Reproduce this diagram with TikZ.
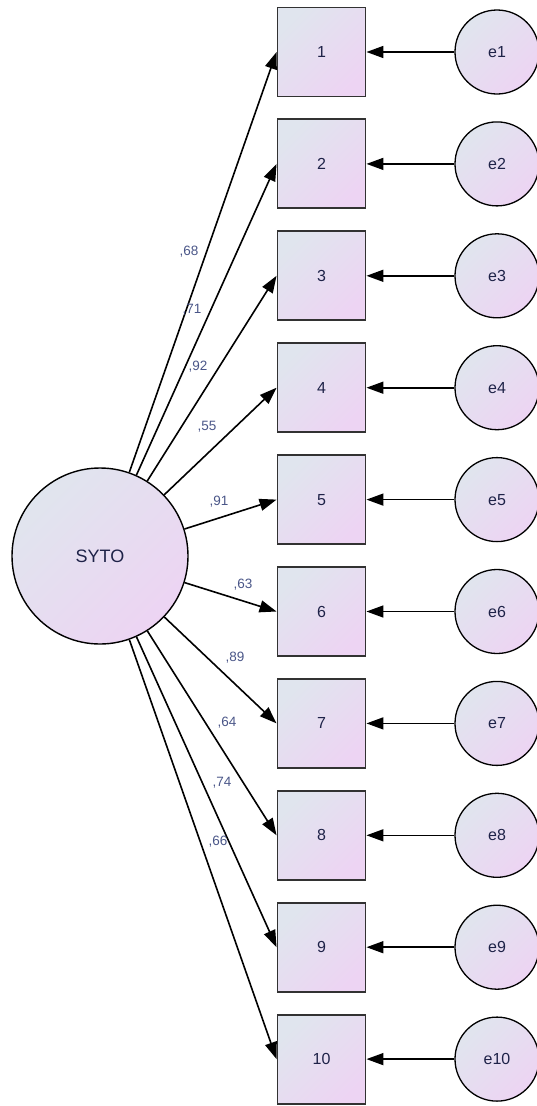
\documentclass[tikz,border=0pt]{standalone}
\usepackage{fontspec}
\setmainfont{Liberation Sans}
\usetikzlibrary{arrows.meta}
\definecolor{fillA}{RGB}{224,229,238}
\definecolor{fillB}{RGB}{237,212,243}
\definecolor{txtc}{RGB}{30,34,72}
\definecolor{labc}{RGB}{74,86,136}
\definecolor{boxline}{RGB}{50,50,50}
\tikzset{
  grad/.style={shading=axis, top color=fillA, bottom color=fillB, shading angle=45},
  obsbox/.style={grad, draw=boxline, line width=1.9pt, minimum width=88pt, minimum height=89pt, inner sep=0pt, text=txtc, font=\fontsize{16}{18}\selectfont},
  errc/.style={grad, circle, draw=black, line width=1.3pt, minimum size=84pt, inner sep=0pt, text=txtc, font=\fontsize{16}{18}\selectfont},
  latc/.style={grad, circle, draw=black, line width=1.4pt, minimum size=176pt, inner sep=0pt, text=txtc, font=\fontsize{18}{20}\selectfont},
  conn/.style={line width=1.6pt, -{Triangle[length=17pt,width=12pt]}},
  lab/.style={text=labc, font=\fontsize{13.5}{15}\selectfont, inner sep=0pt}
}
\begin{document}
\begin{tikzpicture}[x=1pt,y=-1pt]
\useasboundingbox (0,0) rectangle (537,1106);
\node[latc] (syto) at (100,556) {SYTO};
\foreach \i in {1,...,10} {
  \pgfmathsetmacro{\yy}{52+(\i-1)*111.9}
  \node[obsbox] (b\i) at (321.5,\yy) {\i};
  \node[errc] (e\i) at (497,\yy) {e\i};
  \draw[conn] (e\i) -- (b\i.east);
  \draw[conn] (syto) -- (b\i.west);
}
\node[lab] (l1) at (189,252) {,68};
\node[lab] (l2) at (192,310) {,71};
\node[lab] (l3) at (198,367) {,92};
\node[lab] (l4) at (207,427) {,55};
\node[lab] (l5) at (219,502) {,91};
\node[lab] (l6) at (243,585) {,63};
\node[lab] (l7) at (235,658) {,89};
\node[lab] (l8) at (227,723) {,64};
\node[lab] (l9) at (222,783) {,74};
\node[lab] (l10) at (218,842) {,66};
\end{tikzpicture}
\end{document}
